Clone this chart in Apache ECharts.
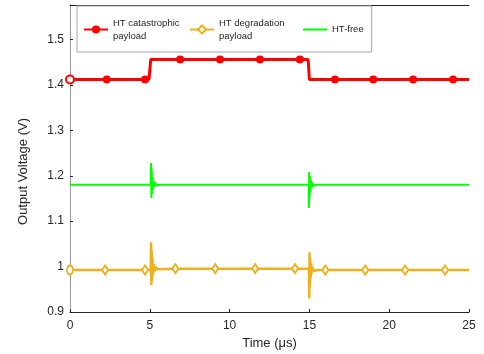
<!DOCTYPE html>
<html>
<head>
<meta charset="utf-8">
<script src="https://cdn.jsdelivr.net/npm/echarts@6/dist/echarts.min.js"></script>
<style>
html,body{margin:0;padding:0;background:#fff}
#main{width:484px;height:354px}
</style>
</head>
<body>
<div id="main"></div>
<script>
// red: HT catastrophic payload
const redLine = [[0,1.412],[4.95,1.412],[5.06,1.456],[14.92,1.456],[15.0,1.412],[25,1.412]]
const redMarkT = [0,2.3,4.7,6.9,9.4,11.9,14.4,16.6,19.0,21.5,24.0]
const redMarkV = [1.412,1.412,1.412,1.456,1.456,1.456,1.456,1.412,1.412,1.412,1.412]

// orange: HT degradation payload
const orangeLine = [
  [0,0.9925],[5.06,0.9925],[5.08,1.0535],[5.10,0.9595],[5.12,1.035],[5.14,0.97],[5.17,1.018],
  [5.2,0.982],[5.25,1.006],[5.3,0.99],[5.38,0.999],[5.48,0.994],[5.6,0.9955],
  [14.97,0.9955],[14.99,0.930],[15.01,1.0315],[15.03,0.955],[15.05,1.018],[15.08,0.975],
  [15.11,1.008],[15.15,0.985],[15.2,0.999],[15.28,0.99],[15.38,0.994],[15.5,0.9925],[25,0.9925]
]
const orangeMarkT = [0,2.2,4.7,6.6,9.1,11.6,14.1,16.0,18.5,21.0,23.5]
const orangeMarkV = [0.9925,0.9925,0.9925,0.9955,0.9955,0.9955,0.9955,0.9925,0.9925,0.9925,0.9925]

// green: HT-free
const greenLine = [
  [0,1.18],[5.06,1.18],[5.08,1.228],[5.10,1.151],[5.12,1.215],[5.14,1.16],[5.17,1.198],
  [5.2,1.17],[5.24,1.188],[5.29,1.176],[5.35,1.184],[5.45,1.179],[5.55,1.181],[5.6,1.18],
  [14.95,1.18],[14.97,1.129],[14.99,1.208],[15.01,1.15],[15.03,1.2],[15.06,1.165],
  [15.1,1.19],[15.14,1.174],[15.19,1.185],[15.26,1.178],[15.35,1.181],[15.4,1.18],[25,1.18]
]

function withMarks(line, mt, mv, sym, firstSym) {
  let pts = line.map(p => ({value: p, symbol: 'none'}))
  mt.forEach((t, i) => {
    pts.push({value: [t, mv[i]], symbol: i === 0 ? firstSym : sym})
  })
  pts.sort((a, b) => a.value[0] - b.value[0])
  return pts
}

const chartDom = document.getElementById('main')
let myChart = echarts.init(chartDom)
let option
const txt = '#262626'
const ff = 'Liberation Sans'
option = {
  animation: false,
  textStyle: {fontFamily: ff},
  grid: {left: 70, right: 15, top: 5, bottom: 42, outerBoundsMode: 'none', containLabel: false},
  legend: {
    left: 77, top: 6,
    padding: [4, 8, 3, 6],
    itemGap: 4,
    itemWidth: 24, itemHeight: 10,
    borderColor: '#a6a6a6', borderWidth: 1,
    backgroundColor: '#fff',
    textStyle: {fontSize: 9.5, lineHeight: 13, color: txt, fontFamily: ff},
    data: [
      {name: 'HT catastrophic\npayload', textStyle: {padding: [13, 0, 0, 0], width: 72}},
      {name: 'HT degradation\npayload', textStyle: {padding: [13, 0, 0, 0], width: 80}},
      {name: 'HT-free', icon: 'path://M0,0H24V2H0Z'}
    ]
  },
  xAxis: [{
    type: 'value', min: 0, max: 25, interval: 5,
    name: 'Time (μs)', nameLocation: 'middle', nameGap: 25,
    nameTextStyle: {fontSize: 13, color: txt, fontFamily: ff},
    axisLine: {lineStyle: {color: txt, width: 1}},
    axisTick: {inside: true, length: 3, lineStyle: {color: txt}},
    axisLabel: {fontSize: 12, color: txt, margin: 8, fontFamily: ff},
    splitLine: {show: false}
  }, {
    type: 'value', min: 0, max: 25, position: 'top',
    axisLine: {show: true, lineStyle: {color: txt}},
    axisTick: {show: false}, axisLabel: {show: false}, splitLine: {show: false}
  }],
  yAxis: [{
    type: 'value', min: 0.9, max: 1.576, interval: 0.1,
    name: 'Output Voltage (V)', nameLocation: 'middle', nameGap: 40,
    nameTextStyle: {fontSize: 13, color: txt, fontFamily: ff, padding: [0, 26, 0, 0]},
    axisLine: {show: true, lineStyle: {color: txt, width: 1}},
    axisTick: {show: true, inside: true, length: 3, lineStyle: {color: txt}},
    axisLabel: {fontSize: 12, color: txt, margin: 6, showMaxLabel: false, fontFamily: ff},
    splitLine: {show: false}
  }, {
    type: 'value', min: 0.9, max: 1.576, position: 'right',
    axisLine: {show: true, lineStyle: {color: '#999'}},
    axisTick: {show: false}, axisLabel: {show: false}, splitLine: {show: false}
  }],
  series: [{
    name: 'HT catastrophic\npayload',
    type: 'line',
    symbol: 'circle', symbolSize: 8, showAllSymbol: true,
    itemStyle: {color: '#ff0000', borderWidth: 2},
    lineStyle: {color: '#ff0000', width: 3},
    data: withMarks(redLine, redMarkT, redMarkV, 'circle', 'emptyCircle'),
    z: 3
  }, {
    name: 'HT degradation\npayload',
    type: 'line',
    symbol: 'emptyDiamond', symbolSize: [6, 9], showAllSymbol: true,
    itemStyle: {color: '#edb120', borderWidth: 2},
    lineStyle: {color: '#edb120', width: 2.5},
    data: withMarks(orangeLine, orangeMarkT, orangeMarkV, 'emptyDiamond', 'emptyCircle'),
    z: 2
  }, {
    name: 'HT-free',
    type: 'line',
    symbol: 'none',
    itemStyle: {color: '#00ff00'},
    lineStyle: {color: '#00ff00', width: 2},
    data: greenLine,
    z: 2
  }]
}

option && myChart.setOption(option)
</script>
</body>
</html>
